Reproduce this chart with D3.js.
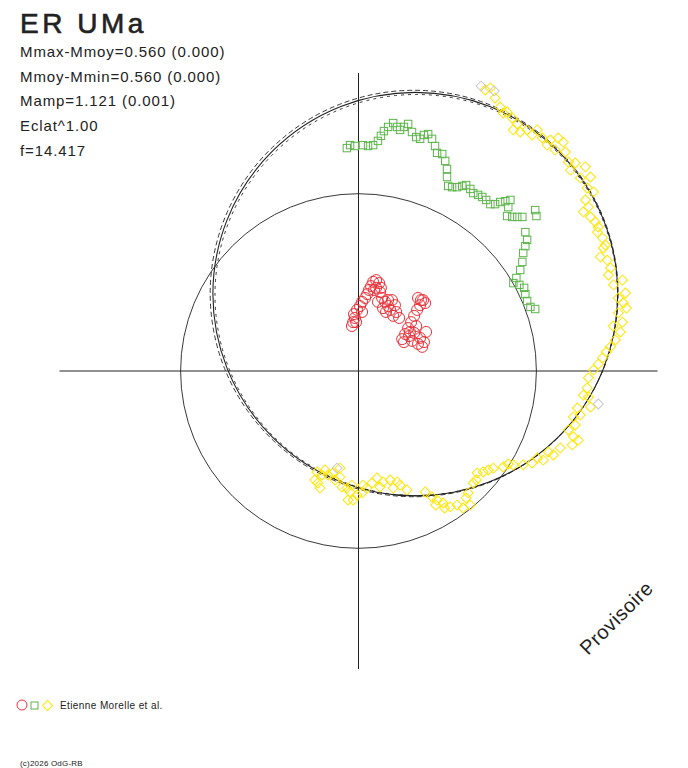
<!DOCTYPE html>
<meta charset="utf-8">
<html>
<head>
<script src="https://cdn.jsdelivr.net/npm/d3@7"></script>
<style>
  body { margin: 0; background: #fff; }
  text { font-family: "Liberation Sans", Arial, sans-serif; fill: #222; }
</style>
</head>
<body>
<script>
// title and fit results
var title = "ER UMa";
var infoLines = ["Mmax-Mmoy=0.560 (0.000)", "Mmoy-Mmin=0.560 (0.000)",
                 "Mamp=1.121 (0.001)", "Eclat^1.00", "f=14.417"];
var credit = "Etienne Morelle et al.";
var copyright = "(c)2026 OdG-RB";
var stamp = "Provisoire";

// reference circle (radius) and fitted loops [cx, cy, r]
var refRadius = 0.595;
var fitLoops = [[0.190, 0.258, 0.677], [0.186, 0.260, 0.682], [0.193, 0.255, 0.673]];

// observed points [x, y]
var redPts = [[-0.022,0.151],[-0.018,0.164],[-0.012,0.178],[-0.015,0.191],[-0.005,0.205],
  [0.005,0.218],[0.012,0.232],[0.022,0.245],[0.029,0.258],[0.035,0.272],[0.042,0.285],
  [0.049,0.299],[0.059,0.305],[0.069,0.295],[0.059,0.279],[0.072,0.265],[0.079,0.245],
  [0.065,0.232],[0.089,0.232],[0.099,0.218],[0.112,0.238],[0.122,0.221],[0.106,0.205],
  [0.126,0.198],[0.136,0.178],[0.092,0.198],[0.082,0.211],[0.199,0.245],[0.216,0.238],
  [0.206,0.221],[0.223,0.228],[0.196,0.205],[0.186,0.185],[0.176,0.164],[0.166,0.144],
  [0.156,0.124],[0.146,0.107],[0.169,0.117],[0.186,0.128],[0.206,0.111],[0.199,0.091],
  [0.219,0.097],[0.226,0.131],[0.179,0.101],[-0.008,0.164],[0.012,0.198],[0.052,0.272],
  [0.075,0.279],[0.099,0.238],[0.116,0.185],[0.209,0.238],[0.172,0.131],[0.213,0.081],
  [0.152,0.097],[0.193,0.151]];

var greenPts = [[-0.039,0.748],[-0.028,0.758],[-0.012,0.755],[0.015,0.758],[0.032,0.755],
  [0.049,0.758],[0.065,0.772],[0.075,0.789],[0.085,0.805],[0.099,0.819],[0.116,0.832],
  [0.129,0.819],[0.139,0.809],[0.152,0.819],[0.166,0.829],[0.179,0.802],[0.193,0.785],
  [0.206,0.779],[0.219,0.792],[0.233,0.795],[0.246,0.779],[0.256,0.755],[0.263,0.732],
  [0.280,0.728],[0.290,0.705],[0.296,0.678],[0.296,0.651],[0.300,0.621],[0.313,0.617],
  [0.330,0.617],[0.347,0.621],[0.360,0.624],[0.374,0.611],[0.384,0.597],[0.400,0.591],
  [0.414,0.584],[0.427,0.574],[0.441,0.560],[0.457,0.560],[0.474,0.567],[0.491,0.570],
  [0.508,0.574],[0.501,0.550],[0.497,0.520],[0.514,0.517],[0.531,0.517],[0.548,0.517],
  [0.591,0.540],[0.595,0.520],[0.558,0.466],[0.564,0.440],[0.558,0.419],[0.551,0.396],
  [0.548,0.366],[0.541,0.339],[0.528,0.312],[0.518,0.295],[0.538,0.289],[0.554,0.279],
  [0.558,0.258],[0.564,0.235],[0.575,0.215],[0.591,0.208]];

var yellowPts = [[0.424,0.943],[0.441,0.950],[0.457,0.916],[0.474,0.886],[0.497,0.869],
  [0.514,0.849],[0.518,0.809],[0.541,0.802],[0.564,0.809],[0.598,0.809],[0.615,0.782],
  [0.642,0.775],[0.668,0.782],[0.685,0.768],[0.692,0.735],[0.702,0.701],[0.709,0.674],
  [0.759,0.685],[0.776,0.651],[0.765,0.614],[0.759,0.574],[0.752,0.534],[0.776,0.517],
  [0.792,0.500],[0.799,0.466],[0.816,0.446],[0.819,0.413],[0.809,0.383],[0.832,0.372],
  [0.843,0.346],[0.836,0.322],[0.883,0.305],[0.893,0.262],[0.886,0.228],[0.869,0.195],
  [0.883,0.164],[0.876,0.131],[0.859,0.104],[0.843,0.081],[0.816,0.044],[0.786,0.003],
  [0.769,-0.023],[0.765,-0.057],[0.769,-0.087],[0.776,-0.121],[0.732,-0.124],[0.719,-0.154],
  [0.725,-0.181],[0.719,-0.221],[0.715,-0.248],[0.675,-0.258],[0.652,-0.282],[0.618,-0.299],
  [0.581,-0.309],[0.551,-0.315],[0.518,-0.315],[0.484,-0.322],[0.451,-0.326],[0.417,-0.339],
  [0.397,-0.342],[0.384,-0.376],[0.367,-0.409],[0.374,-0.450],[0.350,-0.460],[0.330,-0.450],
  [0.307,-0.456],[0.283,-0.443],[0.263,-0.433],[0.246,-0.423],[0.223,-0.406],[0.162,-0.399],
  [0.139,-0.383],[0.129,-0.372],[0.106,-0.366],[0.082,-0.372],[0.062,-0.359],[0.045,-0.376],
  [0.028,-0.393],[0.012,-0.409],[-0.005,-0.416],[-0.018,-0.433],[-0.035,-0.433],[-0.039,-0.393],
  [-0.055,-0.389],[-0.062,-0.356],[-0.062,-0.326],[-0.085,-0.342],[-0.102,-0.349],
  [-0.122,-0.349],[-0.139,-0.339],[-0.146,-0.366],[-0.136,-0.376],
  [0.484,0.866],[0.531,0.829],[0.581,0.792],[0.631,0.758],[0.658,0.742],[0.725,0.698],
  [0.742,0.648],[0.786,0.601],[0.769,0.550],[0.802,0.483],[0.826,0.423],[0.853,0.289],
  [0.869,0.245],[0.896,0.211],[0.852,0.151],[0.829,0.064],[0.802,0.023],[0.752,-0.081],
  [0.742,-0.148],[0.702,-0.198],[0.735,-0.232],[0.635,-0.272],[0.598,-0.292],[0.501,-0.312],
  [0.434,-0.332],[0.394,-0.366],[0.360,-0.426],[0.288,-0.460],[0.258,-0.450],[0.116,-0.393],
  [0.072,-0.389],[0.015,-0.383],[-0.028,-0.406],[-0.079,-0.366],[-0.112,-0.332],
  [-0.129,-0.393],[-0.022,-0.383]];

var grayPts = [[0.410,0.956],[0.454,0.940],[0.802,-0.111],[-0.072,-0.326]];

var RED = "#e8323a", GREEN = "#5cb54a", YELLOW = "#ffe600", GRAY = "#c8c8c8";

var svg = d3.select("body").append("svg")
    .attr("width", 688)
    .attr("height", 768);

var x = d3.scaleLinear().domain([-1, 1]).range([59.5, 657.5]);
var y = d3.scaleLinear().domain([-1, 1]).range([669, 73]);
var rx = function (r) { return x(r) - x(0); };
var ry = function (r) { return y(0) - y(r); };

// axes through the origin
svg.append("line")
    .attr("x1", x(-1)).attr("x2", x(1))
    .attr("y1", y(0)).attr("y2", y(0))
    .attr("stroke", "#222").attr("stroke-width", 1);
svg.append("line")
    .attr("x1", x(0)).attr("x2", x(0))
    .attr("y1", y(1)).attr("y2", y(-1))
    .attr("stroke", "#222").attr("stroke-width", 1);

// reference circle
svg.append("ellipse")
    .attr("cx", x(0)).attr("cy", y(0))
    .attr("rx", rx(refRadius)).attr("ry", ry(refRadius))
    .attr("fill", "none").attr("stroke", "#222").attr("stroke-width", 0.9);

// fitted loops: one solid, two dashed
var dashes = [null, "5,3", "3,4"];
svg.selectAll("ellipse.fit")
    .data(fitLoops)
    .enter().append("ellipse")
    .attr("class", "fit")
    .attr("cx", function (d) { return x(d[0]); })
    .attr("cy", function (d) { return y(d[1]); })
    .attr("rx", function (d) { return rx(d[2]); })
    .attr("ry", function (d) { return ry(d[2]); })
    .attr("fill", "none")
    .attr("stroke", "#222")
    .attr("stroke-width", function (d, i) { return i === 0 ? 1.1 : 0.9; })
    .attr("stroke-dasharray", function (d, i) { return dashes[i]; });

// observations
svg.selectAll("path.yel")
    .data(yellowPts)
    .enter().append("path")
    .attr("class", "yel")
    .attr("d", d3.symbol(d3.symbolSquare, 50))
    .attr("transform", function (d) { return "translate(" + x(d[0]) + "," + y(d[1]) + ") rotate(45)"; })
    .attr("fill", "none").attr("stroke", YELLOW).attr("stroke-width", 1);

svg.selectAll("path.gry")
    .data(grayPts)
    .enter().append("path")
    .attr("class", "gry")
    .attr("d", d3.symbol(d3.symbolSquare, 50))
    .attr("transform", function (d) { return "translate(" + x(d[0]) + "," + y(d[1]) + ") rotate(45)"; })
    .attr("fill", "none").attr("stroke", GRAY).attr("stroke-width", 1);

svg.selectAll("rect.grn")
    .data(greenPts)
    .enter().append("rect")
    .attr("class", "grn")
    .attr("x", function (d) { return x(d[0]) - 3.7; })
    .attr("y", function (d) { return y(d[1]) - 3.7; })
    .attr("width", 7.4).attr("height", 7.4)
    .attr("fill", "none").attr("stroke", GREEN).attr("stroke-width", 1);

svg.selectAll("circle.red")
    .data(redPts)
    .enter().append("circle")
    .attr("class", "red")
    .attr("cx", function (d) { return x(d[0]); })
    .attr("cy", function (d) { return y(d[1]); })
    .attr("r", 5.5)
    .attr("fill", "none").attr("stroke", RED).attr("stroke-width", 1);

// header text
svg.append("text")
    .attr("x", 20).attr("y", 33)
    .style("font-size", "28px")
    .style("letter-spacing", "3.5px")
    .style("stroke", "#222").style("stroke-width", "0.6px")
    .text(title);

svg.selectAll("text.info")
    .data(infoLines)
    .enter().append("text")
    .attr("class", "info")
    .attr("x", 20)
    .attr("y", function (d, i) { return 57 + i * 24.7; })
    .style("font-size", "15px")
    .style("letter-spacing", "0.9px")
    .text(function (d) { return d; });

// "Provisoire" stamp
svg.append("text")
    .attr("transform", "translate(588,656) rotate(-45)")
    .style("font-size", "20px")
    .style("letter-spacing", "0.5px")
    .text(stamp);

// legend
svg.append("circle")
    .attr("cx", 22).attr("cy", 705).attr("r", 5)
    .attr("fill", "none").attr("stroke", RED);
svg.append("rect")
    .attr("x", 31).attr("y", 702).attr("width", 7).attr("height", 7)
    .attr("fill", "none").attr("stroke", GREEN);
svg.append("path")
    .attr("d", d3.symbol(d3.symbolSquare, 50))
    .attr("transform", "translate(47.5,705.5) rotate(45)")
    .attr("fill", "none").attr("stroke", YELLOW);
svg.append("text")
    .attr("x", 60).attr("y", 709)
    .style("font-size", "10px")
    .style("letter-spacing", "0.4px")
    .text(credit);

svg.append("text")
    .attr("x", 20).attr("y", 766)
    .style("font-size", "8px")
    .style("letter-spacing", "0.2px")
    .text(copyright);
</script>
</body>
</html>
